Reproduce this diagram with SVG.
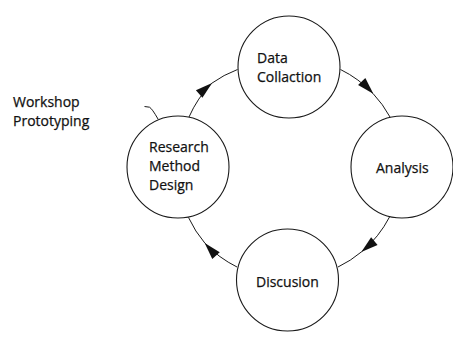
<svg xmlns="http://www.w3.org/2000/svg" width="453" height="338" viewBox="0 0 453 338">
  <style>
    .node { fill: #ffffff; stroke: #1a1a1a; stroke-width: 1.1; }
    .lbl { font-family: "Open Sans", "Liberation Sans", sans-serif; font-size: 14px; fill: #111111; stroke: #111111; stroke-width: 0.25; }
    .conn { fill: none; stroke: #1a1a1a; stroke-width: 1; }
  </style>
  <defs>
    <marker id="arrow" markerUnits="userSpaceOnUse" viewBox="0 0 17 10" markerWidth="17" markerHeight="10" refX="16.5" refY="5" orient="auto" overflow="visible">
      <path d="M0,0 L17,5 L0,10 z" fill="#111111"/>
    </marker>
  </defs>

  <rect width="453" height="338" fill="#ffffff"/>

  <g id="connectors">
    <path class="conn" marker-mid="url(#arrow)" d="M189,117 A113,113 0 0 1 211.7,83.3 A113,113 0 0 1 237.5,69.5"/>
    <path class="conn" marker-mid="url(#arrow)" d="M340.5,69.5 A113,113 0 0 1 373,93.5 A113,113 0 0 1 390,117"/>
    <path class="conn" marker-mid="url(#arrow)" d="M389.5,217 A113,113 0 0 1 361.7,251.7 A113,113 0 0 1 338,267"/>
    <path class="conn" marker-mid="url(#arrow)" d="M237,267 A113,113 0 0 1 205,243.3 A113,113 0 0 1 188.5,217.5"/>
    <path class="conn" d="M144.5,106.5 L149.5,107.2 Q152,108.5 158,119"/>
  </g>

  <g id="workshop-prototyping">
    <text class="lbl" x="13" y="107">Workshop</text>
    <text class="lbl" x="13" y="126">Prototyping</text>
  </g>

  <g id="data-collaction">
    <circle class="node" cx="289" cy="67" r="51"/>
    <text class="lbl" x="257" y="62.5">Data</text>
    <text class="lbl" x="257" y="81.5">Collaction</text>
  </g>

  <g id="analysis">
    <circle class="node" cx="402" cy="167" r="51"/>
    <text class="lbl" x="376" y="173">Analysis</text>
  </g>

  <g id="discusion">
    <circle class="node" cx="287.5" cy="280" r="51"/>
    <text class="lbl" x="256" y="287">Discusion</text>
  </g>

  <g id="research-method-design">
    <circle class="node" cx="178" cy="167" r="51"/>
    <text class="lbl" x="149" y="152">Research</text>
    <text class="lbl" x="149" y="171">Method</text>
    <text class="lbl" x="149" y="190">Design</text>
  </g>
</svg>
